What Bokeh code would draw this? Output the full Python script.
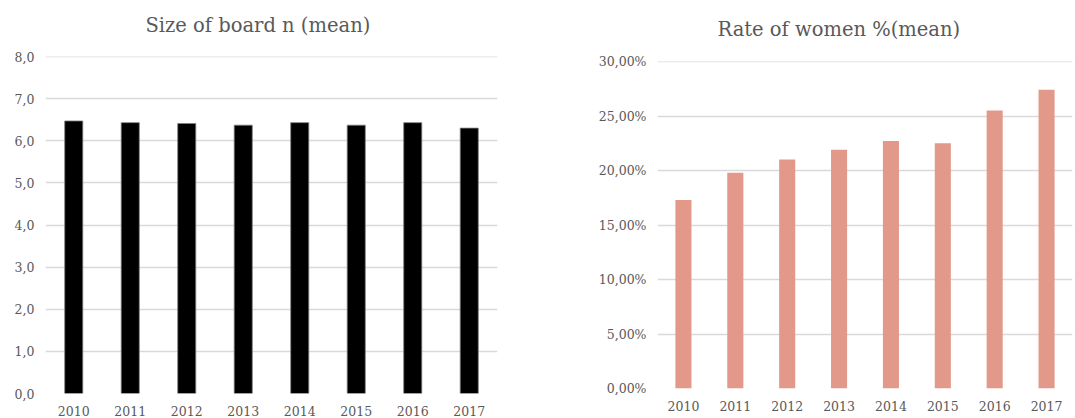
from bokeh.plotting import figure
from bokeh.layouts import row, column
from bokeh.models import FixedTicker, Title
from bokeh.embed import file_html
from bokeh.resources import INLINE

# Data
years = ["2010", "2011", "2012", "2013", "2014", "2015", "2016", "2017"]
board_size = [6.47, 6.43, 6.41, 6.37, 6.43, 6.37, 6.43, 6.30]
women_rate = [17.3, 19.8, 21.0, 21.9, 22.7, 22.5, 25.5, 27.4]

board_ticks = [0, 1, 2, 3, 4, 5, 6, 7, 8]
board_tick_labels = ["0,0", "1,0", "2,0", "3,0", "4,0", "5,0", "6,0", "7,0", "8,0"]
rate_ticks = [0, 5, 10, 15, 20, 25, 30]
rate_tick_labels = ["0,00%", "5,00%", "10,00%", "15,00%", "20,00%", "25,00%", "30,00%"]

TEXT = "#595959"
GRID = "#D9D9D9"
FONT = "DejaVu Serif"


def style(p, ticks, labels):
    p.outline_line_color = None
    p.xgrid.grid_line_color = None
    p.ygrid.grid_line_color = GRID
    p.ygrid.grid_line_width = 1.3
    p.yaxis.ticker = FixedTicker(ticks=ticks)
    p.yaxis.major_label_overrides = {t: s for t, s in zip(ticks, labels)}
    for ax in (p.xaxis, p.yaxis):
        ax.axis_line_color = None
        ax.major_tick_line_color = None
        ax.minor_tick_line_color = None
        ax.major_tick_out = 0
        ax.major_tick_in = 0
        ax.minor_tick_out = 0
        ax.minor_tick_in = 0
        ax.major_label_text_font = FONT
        ax.major_label_text_font_size = "12.5px"
        ax.major_label_text_color = TEXT
    p.yaxis.major_label_standoff = 11
    p.xaxis.major_label_standoff = 12
    p.x_range.range_padding = 0


def add_title(p, text, offset, standoff, pad_bottom):
    p.add_layout(Title(text=text, align="left", offset=offset, standoff=standoff,
                       vertical_align="top",
                       padding=dict(left=0, right=0, top=0, bottom=pad_bottom),
                       text_font=FONT, text_font_size="19.5px",
                       text_font_style="normal", text_color=TEXT), "above")


# Left: board size
p1 = figure(x_range=years, y_range=(0, 8.0001), width=540, height=418,
            output_backend="svg", toolbar_location=None)
p1.vbar(x=years, top=board_size, width=0.32, fill_color="black",
        line_color="#7f7f7f", line_width=0.8)
style(p1, board_ticks, board_tick_labels)
p1.min_border_left = 45
p1.min_border_right = 43
p1.min_border_top = 56
p1.min_border_bottom = 25
add_title(p1, "Size of board n (mean)", 100, 24, 6)

# Right: share of women
p2 = figure(x_range=years, y_range=(0, 30.001), width=535, height=418,
            output_backend="svg", toolbar_location=None)
p2.vbar(x=years, top=women_rate, width=0.31, fill_color="#E2998A",
        line_color=None)
style(p2, rate_ticks, rate_tick_labels)
p2.min_border_left = 117
p2.min_border_right = 3
p2.min_border_top = 61
p2.min_border_bottom = 30
add_title(p2, "Rate of women %(mean)", 60, 32, 3)

# separate columns keep each chart's frame independent of the other
layout = row(column(p1), column(p2))
open("out.html", "w").write(file_html(layout, INLINE))
